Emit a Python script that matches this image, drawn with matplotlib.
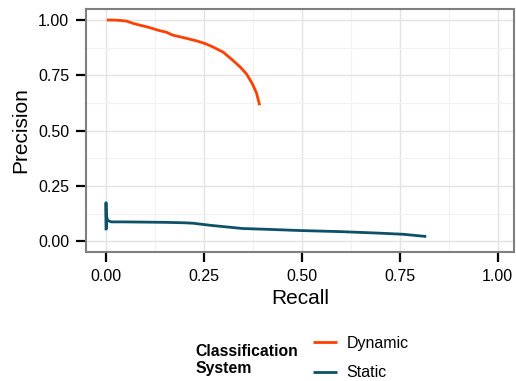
import matplotlib
matplotlib.use("Agg")
import matplotlib.pyplot as plt
from matplotlib.ticker import MultipleLocator

plt.rcParams['font.family'] = ['Liberation Sans', 'DejaVu Sans']

# precision / recall
dyn_recall = [0.003, 0.02, 0.04, 0.054, 0.07, 0.087, 0.11, 0.138, 0.155, 0.171,
              0.2, 0.232, 0.255, 0.273, 0.3, 0.324, 0.345, 0.36, 0.375, 0.385, 0.393]
dyn_prec = [1.0, 1.0, 0.998, 0.995, 0.985, 0.977, 0.967, 0.952, 0.945, 0.932,
            0.92, 0.906, 0.893, 0.879, 0.855, 0.819, 0.785, 0.755, 0.71, 0.67, 0.615]

sta_recall = [0.001, 0.001, 0.002, 0.002, 0.004, 0.008, 0.015, 0.05, 0.1, 0.15,
              0.2, 0.223, 0.27, 0.35, 0.42, 0.495, 0.6, 0.7, 0.76, 0.818]
sta_prec = [0.05, 0.175, 0.06, 0.12, 0.10, 0.092, 0.088, 0.088, 0.087, 0.086,
            0.084, 0.082, 0.072, 0.058, 0.054, 0.049, 0.044, 0.037, 0.032, 0.022]

series_names = ['Dynamic', 'Static']
colors = ['#FF4000', '#0D5169']

fig = plt.figure(figsize=(5.16, 3.81), dpi=100)
ax = fig.add_axes([0.1667, 0.3386, 0.8295, 0.6378])

ax.plot(dyn_recall, dyn_prec, color=colors[0], lw=2.0, label=series_names[0],
        solid_capstyle='butt')
ax.plot(sta_recall, sta_prec, color=colors[1], lw=2.0, label=series_names[1],
        solid_capstyle='butt')

ax.set_xlim(-0.05, 1.042)
ax.set_ylim(-0.048, 1.05)
ax.xaxis.set_major_locator(MultipleLocator(0.25))
ax.yaxis.set_major_locator(MultipleLocator(0.25))
ax.xaxis.set_minor_locator(MultipleLocator(0.125))
ax.yaxis.set_minor_locator(MultipleLocator(0.125))
ax.grid(True, which='major', color='#E3E3E3', lw=1.0)
ax.grid(True, which='minor', color='#F2F2F2', lw=0.8)
ax.set_axisbelow(True)
ax.tick_params(which='minor', length=0)
ax.tick_params(which='major', length=7, width=1.6, color='black',
               labelsize=11.5, pad=5)
ax.xaxis.set_major_formatter(plt.FuncFormatter(lambda v, p: f"{v:.2f}"))
ax.yaxis.set_major_formatter(plt.FuncFormatter(lambda v, p: f"{v:.2f}"))
for s in ax.spines.values():
    s.set_color('#7F7F7F')
    s.set_linewidth(1.5)

ax.set_xlabel('Recall', fontsize=15, labelpad=4)
ax.set_ylabel('Precision', fontsize=15, labelpad=6)

leg = fig.legend(loc='center left', bbox_to_anchor=(0.578, 0.0604),
                 frameon=False, fontsize=11.5, handlelength=1.5,
                 handletextpad=0.63, labelspacing=0.9)
fig.text(0.378, 0.056, 'Classification\nSystem', fontsize=11.3,
         fontweight='bold', va='center', ha='left', linespacing=1.15)

fig.savefig('out.png', dpi=100)
